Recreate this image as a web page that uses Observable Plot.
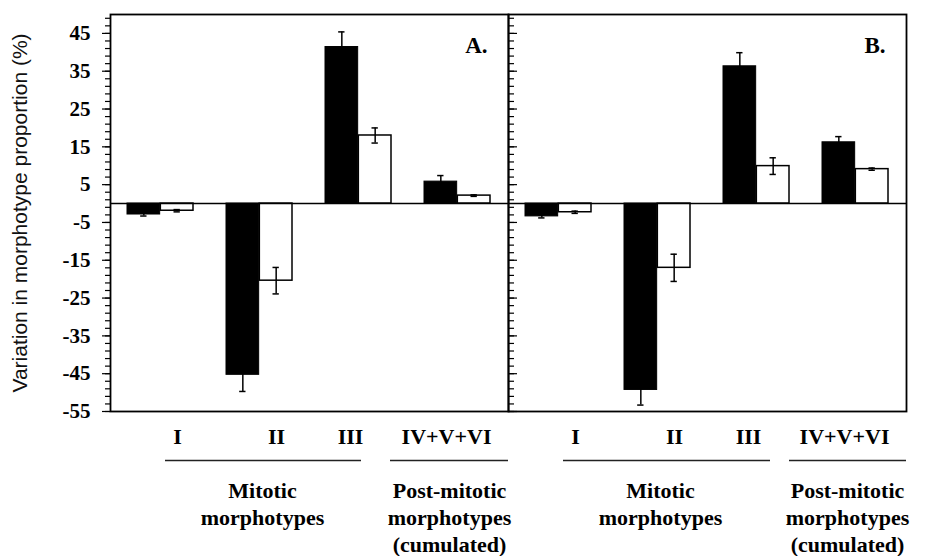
<!DOCTYPE html>
<html>
<head>
<meta charset="utf-8">
<script src="https://cdn.jsdelivr.net/npm/d3@7"></script>
<script src="https://cdn.jsdelivr.net/npm/@observablehq/plot@0.6"></script>
<style>
  body { margin: 0; background: #fff; }
  #chart svg { display: block; }
</style>
</head>
<body>
<div id="chart"></div>
<script>
// Panels and morphotype groups
const panels = ["A", "B"];
const groups = ["I", "II", "III", "IV+V+VI"];

// Panel A: variation (%) and error for the filled and open series
const filledA = [-2.9, -45.3, 41.4, 5.8];
const filledErrA = [0.4, 4.4, 4.0, 1.6];
const openA = [-1.9, -20.4, 18.0, 2.1];
const openErrA = [0.3, 3.5, 2.0, 0.2];

// Panel B
const filledB = [-3.4, -49.3, 36.3, 16.2];
const filledErrB = [0.4, 4.0, 3.6, 1.5];
const openB = [-2.3, -17.0, 9.9, 9.1];
const openErrB = [0.3, 3.6, 2.2, 0.3];

// Axis
const yDomain = [-55, 50];
const yMajorTicks = [-55, -45, -35, -25, -15, -5, 5, 15, 25, 35, 45];
const yLabel = "Variation in morphotype proportion (%)";

// Group captions below the axis
const captions = [
  {group: "II", text: "Mitotic\nmorphotypes"},
  {group: "IV+V+VI", text: "Post-mitotic\nmorphotypes\n(cumulated)"}
];

// ---- build the tidy table ----
const series = {
  A: {filled: [filledA, filledErrA], open: [openA, openErrA]},
  B: {filled: [filledB, filledErrB], open: [openB, openErrB]}
};
const rows = [];
for (const p of panels) {
  for (const s of ["filled", "open"]) {
    const [vals, errs] = series[p][s];
    groups.forEach((g, i) => rows.push({panel: p, group: g, series: s, value: vals[i], err: errs[i]}));
  }
}
const filled = rows.filter(d => d.series === "filled");
const open = rows.filter(d => d.series === "open");
const groupRows = panels.flatMap(p => groups.map(g => ({panel: p, group: g})));
const captionRows = panels.flatMap(p => captions.map(c => ({panel: p, ...c})));
const panelRows = panels.map(p => ({panel: p}));

// ---- layout ----
const width = 932, height = 556;
const marginLeft = 110, marginRight = 26, marginTop = 14, marginBottom = 145;
const padIn = 0.33, padOut = 0.165;
const facetWidth = (width - marginLeft - marginRight) / panels.length;
const step = facetWidth / (groups.length - padIn + 2 * padOut);
const bandwidth = step * (1 - padIn);
const half = bandwidth / 2, quarter = bandwidth / 4;
const capHalf = 3.5;

const serif = "'Liberation Serif', 'Times New Roman', serif";
const sans = "'Liberation Sans', Arial, sans-serif";

// label nudges relative to each group's centre
const groupNudge = {"I": 17, "II": 17, "III": -8, "IV+V+VI": -11};
const captionNudge = {"II": 3, "IV+V+VI": -8};

// underline spans under the captions, as insets within each panel
const underlines = [
  {panel: "A", insetLeft: 55, insetRight: 147},
  {panel: "A", insetLeft: 280, insetRight: 0},
  {panel: "B", insetLeft: 55, insetRight: 136},
  {panel: "B", insetLeft: 281, insetRight: 0}
];

const errorBars = (data, offset) => [
  Plot.ruleX(data, {fx: "panel", x: "group", y1: d => d.value - d.err, y2: d => d.value + d.err,
    dx: offset, stroke: "black", strokeWidth: 1.5}),
  Plot.tickY(data, {fx: "panel", x: "group", y: d => d.value - d.err,
    insetLeft: half + offset - capHalf, insetRight: half - offset - capHalf, stroke: "black", strokeWidth: 1.5}),
  Plot.tickY(data, {fx: "panel", x: "group", y: d => d.value + d.err,
    insetLeft: half + offset - capHalf, insetRight: half - offset - capHalf, stroke: "black", strokeWidth: 1.5})
];

const minorTicks = d3.range(-55, 50, 2);

const chart = Plot.plot({
  width, height, marginLeft, marginRight, marginTop, marginBottom,
  style: {background: "#fff", color: "#000"},
  fx: {domain: panels, padding: 0, axis: null},
  x: {domain: groups, paddingInner: padIn, paddingOuter: padOut, axis: null},
  y: {domain: yDomain, label: null},
  marks: [
    Plot.barY(filled, {fx: "panel", x: "group", y: "value", fill: "black", stroke: "black",
      strokeWidth: 1, insetRight: half}),
    Plot.barY(open, {fx: "panel", x: "group", y: "value", fill: "white", stroke: "black",
      strokeWidth: 1.5, insetLeft: half}),
    ...errorBars(filled, -quarter),
    ...errorBars(open, quarter),
    Plot.ruleY([0], {stroke: "black", strokeWidth: 1.5}),
    Plot.frame({stroke: "black", strokeWidth: 1.8}),

    // outer y axis on panel A
    Plot.axisY(minorTicks, {anchor: "left", tickSize: 5, tickFormat: () => "", label: null, strokeWidth: 1.2}),
    Plot.axisY(yMajorTicks, {anchor: "left", tickSize: 8, tickPadding: 12, label: null, strokeWidth: 1.2,
      tickFormat: d => String(d), fontSize: 21, fontWeight: "bold", fontFamily: serif}),
    // inward ticks along the left edge of panel B
    Plot.axisY(minorTicks, {anchor: "left", facetAnchor: "right", tickSize: 6, dx: 6,
      tickFormat: () => "", label: null, strokeWidth: 1.2}),
    Plot.axisY(yMajorTicks, {anchor: "left", facetAnchor: "right", tickSize: 9, dx: 9,
      tickFormat: () => "", label: null, strokeWidth: 1.2}),

    // y title
    Plot.text([yLabel], {fx: () => "A", text: d => d, frameAnchor: "left", textAnchor: "middle",
      rotate: -90, dx: -90, fontSize: 21, fontFamily: sans, fill: "#111"}),

    // panel letters
    Plot.text(panelRows, {fx: "panel", text: d => d.panel + ".", frameAnchor: "top-right",
      textAnchor: "end", lineAnchor: "middle", dx: -21, dy: 31,
      fontSize: 23, fontWeight: "bold", fontFamily: serif}),

    // group labels
    ...groups.map(g => Plot.text(groupRows.filter(d => d.group === g), {
      fx: "panel", x: "group", text: "group", frameAnchor: "bottom", lineAnchor: "middle",
      dy: 25, dx: groupNudge[g], fontSize: 22, fontWeight: "bold", fontFamily: serif})),

    // underlines
    ...underlines.map(u => Plot.ruleY([u], {fx: "panel", y: () => yDomain[0], dy: 49,
      insetLeft: u.insetLeft, insetRight: u.insetRight, stroke: "#222", strokeWidth: 1.5})),

    // captions
    ...captions.map(c => Plot.text(captionRows.filter(d => d.group === c.group), {
      fx: "panel", x: "group", text: "text", frameAnchor: "bottom", lineAnchor: "top",
      dy: 67, dx: captionNudge[c.group], lineHeight: 1.24,
      fontSize: 22, fontWeight: "bold", fontFamily: serif}))
  ]
});

document.getElementById("chart").append(chart);
</script>
</body>
</html>
